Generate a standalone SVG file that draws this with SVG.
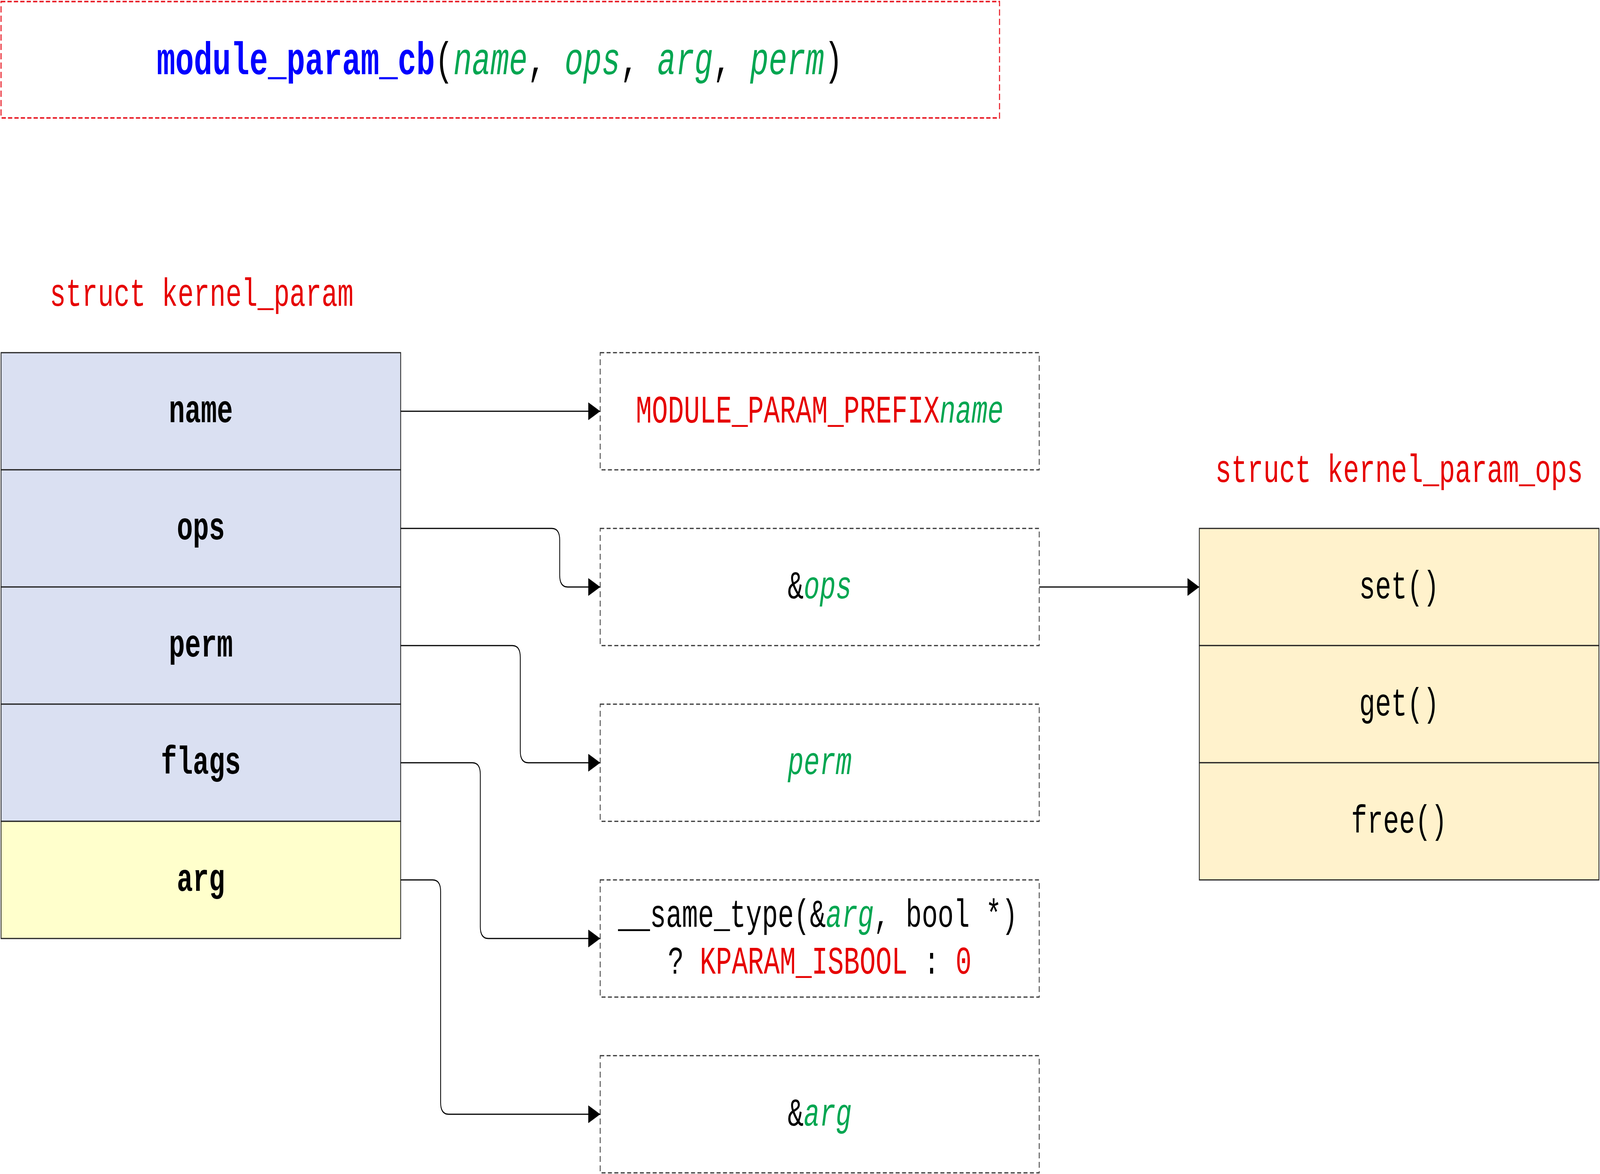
<svg xmlns="http://www.w3.org/2000/svg" width="6006" height="3006" viewBox="0 0 6006 3006" preserveAspectRatio="none" style="width:100vw;height:100vh;display:block">
<defs>
<style>
text{font-family:"Liberation Mono","Courier New",monospace;font-size:100px;fill:#000;text-anchor:middle}
.b{font-weight:bold}
.g{fill:#00A651;font-style:italic}
.r{fill:#E60000}
.blue{fill:#0000FF;font-weight:bold}
.row{stroke:#222;stroke-width:3}
.kp{fill:#DAE0F2}
.ka{fill:#FFFFCC}
.ko{fill:#FFF2CC}
.val{fill:#fff;stroke:#333;stroke-width:3;stroke-dasharray:15 9}
.conn{fill:none;stroke:#000;stroke-width:3}
</style>
<marker id="arr" markerUnits="userSpaceOnUse" markerWidth="46" markerHeight="46" refX="45" refY="23" orient="auto" viewBox="0 0 46 46">
<path d="M0,0 L45,23 L0,46 Z" fill="#000"/>
</marker>
</defs>
<rect width="6006" height="3006" fill="#fff"/>

<g id="title">
<rect x="4" y="4" width="3748" height="298" fill="#fff" stroke="#E8202A" stroke-width="4" stroke-dasharray="16 8"/>
<text x="1876" y="190" style="font-size:116px"><tspan class="blue">module_param_cb</tspan>(<tspan class="g">name</tspan>, <tspan class="g">ops</tspan>, <tspan class="g">arg</tspan>, <tspan class="g">perm</tspan>)</text>
</g>

<g id="kernel_param">
<text class="r" x="757" y="783">struct kernel_param</text>
<g id="kp_name"><rect class="row kp" x="4" y="903" width="1500" height="300"/><text class="b" x="754" y="1081">name</text></g>
<g id="kp_ops"><rect class="row kp" x="4" y="1203" width="1500" height="300"/><text class="b" x="754" y="1381">ops</text></g>
<g id="kp_perm"><rect class="row kp" x="4" y="1503" width="1500" height="300"/><text class="b" x="754" y="1681">perm</text></g>
<g id="kp_flags"><rect class="row kp" x="4" y="1803" width="1500" height="300"/><text class="b" x="754" y="1981">flags</text></g>
<g id="kp_arg"><rect class="row ka" x="4" y="2103" width="1500" height="300"/><text class="b" x="754" y="2281">arg</text></g>
</g>

<g id="v_name"><rect class="val" x="2253" y="903" width="1648" height="300"/><text x="3077" y="1082"><tspan class="r">MODULE_PARAM_PREFIX</tspan><tspan class="g">name</tspan></text></g>
<g id="v_ops"><rect class="val" x="2253" y="1353" width="1648" height="300"/><text x="3077" y="1532">&amp;<tspan class="g">ops</tspan></text></g>
<g id="v_perm"><rect class="val" x="2253" y="1803" width="1648" height="300"/><text x="3077" y="1982"><tspan class="g">perm</tspan></text></g>
<g id="v_flags"><rect class="val" x="2253" y="2253" width="1648" height="300"/>
<text x="3070" y="2373">__same_type(&amp;<tspan class="g">arg</tspan>, bool *)</text>
<text x="3077" y="2493">? <tspan class="r">KPARAM_ISBOOL</tspan> : <tspan class="r">0</tspan></text></g>
<g id="v_arg"><rect class="val" x="2253" y="2703" width="1648" height="300"/><text x="3077" y="2882">&amp;<tspan class="g">arg</tspan></text></g>

<g id="kernel_param_ops">
<text class="r" x="5252" y="1234">struct kernel_param_ops</text>
<g id="op_set"><rect class="row ko" x="4502" y="1353" width="1500" height="300"/><text x="5252" y="1532">set()</text></g>
<g id="op_get"><rect class="row ko" x="4502" y="1653" width="1500" height="300"/><text x="5252" y="1832">get()</text></g>
<g id="op_free"><rect class="row ko" x="4502" y="1953" width="1500" height="300"/><text x="5252" y="2132">free()</text></g>
</g>

<g id="connectors">
<path class="conn" marker-end="url(#arr)" d="M1504,1053 H2253"/>
<path class="conn" marker-end="url(#arr)" d="M1504,1353 H2071 Q2101,1353 2101,1383 V1473 Q2101,1503 2131,1503 H2253"/>
<path class="conn" marker-end="url(#arr)" d="M1504,1653 H1923 Q1953,1653 1953,1683 V1923 Q1953,1953 1983,1953 H2253"/>
<path class="conn" marker-end="url(#arr)" d="M1504,1953 H1773 Q1803,1953 1803,1983 V2373 Q1803,2403 1833,2403 H2253"/>
<path class="conn" marker-end="url(#arr)" d="M1504,2253 H1624 Q1654,2253 1654,2283 V2823 Q1654,2853 1684,2853 H2253"/>
<path class="conn" marker-end="url(#arr)" d="M3901,1503 H4502"/>
</g>
</svg>
